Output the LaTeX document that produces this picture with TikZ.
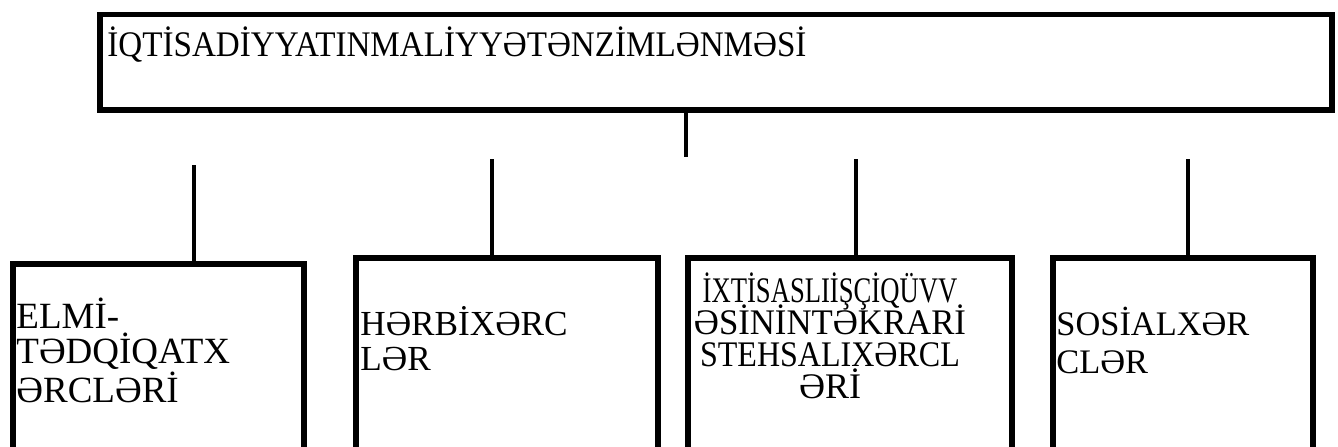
\documentclass[tikz,border=0pt]{standalone}
\usepackage{graphicx}
\usepackage{fontspec}
\setmainfont{Liberation Serif}
\newcommand{\narrow}[2]{\scalebox{#1}[1]{#2}}
\newcommand{\tightlines}{\lineskiplimit=-20pt\relax}
\begin{document}
\begin{tikzpicture}[x=0.5pt,y=-0.5pt,
        box/.style={draw, line width=2.9pt, inner sep=0pt, outer sep=0pt, anchor=north west},
        lbl/.style={inner sep=0pt, align=left, anchor=base west},
        link/.style={line width=2.2pt}]
        \useasboundingbox (0,0) rectangle (1338,446);

        % Draw the head box
        \node[box, minimum width=616pt, minimum height=47.75pt] (head) at (100,14.5) {};
        \node[lbl, font=\fontsize{18}{18}\selectfont] (headtxt) at (107,56) {\narrow{0.92}{İQTİSADİYYATINMALİYYƏTƏNZİMLƏNMƏSİ}};

        % Draw the four lower boxes (open below)
        \node[box, minimum width=145.5pt, minimum height=120pt] (elmi) at (13,264) {};
        \node[box, minimum width=151pt, minimum height=120pt] (herbi) at (356,258) {};
        \node[box, minimum width=162pt, minimum height=120pt] (ixtisas) at (688,258) {};
        \node[box, minimum width=130pt, minimum height=120pt] (sosial) at (1053,258) {};

        % Box texts (anchored at the last baseline)
        \node[lbl, font=\fontsize{18.5}{17.25}\selectfont] (elmitxt) at (16,402) {ELMİ-\\TƏDQİQATX\\ƏRCLƏRİ};
        \node[lbl, font=\fontsize{17.6}{17.5}\selectfont] (herbitxt) at (360,370) {HƏRBİXƏRC\\LƏR};
        \node[lbl, align=center, anchor=base, font=\fontsize{18}{16}\selectfont\tightlines] (ixtisastxt) at (830,398)
            {\narrow{0.74}{İXTİSASLIİŞÇİQÜVV}\\\narrow{0.965}{ƏSİNİNTƏKRARİ}\\\narrow{0.89}{STEHSALIXƏRCL}\\ƏRİ};
        \node[lbl, font=\fontsize{17.2}{19}\selectfont] (sosialtxt) at (1056,373) {SOSİALXƏR\\CLƏR};

        % Connectors (they do not meet)
        \coordinate (stub) at (686,157);
        \draw[link] (stub |- head.south) -- (stub);
        \coordinate (e1) at (194,165);
        \coordinate (h1) at (492,159);
        \coordinate (i1) at (856,159);
        \coordinate (s1) at (1188,159);
        \draw[link] (e1) -- (e1 |- elmi.north);
        \draw[link] (h1) -- (h1 |- herbi.north);
        \draw[link] (i1) -- (i1 |- ixtisas.north);
        \draw[link] (s1) -- (s1 |- sosial.north);
    \end{tikzpicture}
\end{document}
